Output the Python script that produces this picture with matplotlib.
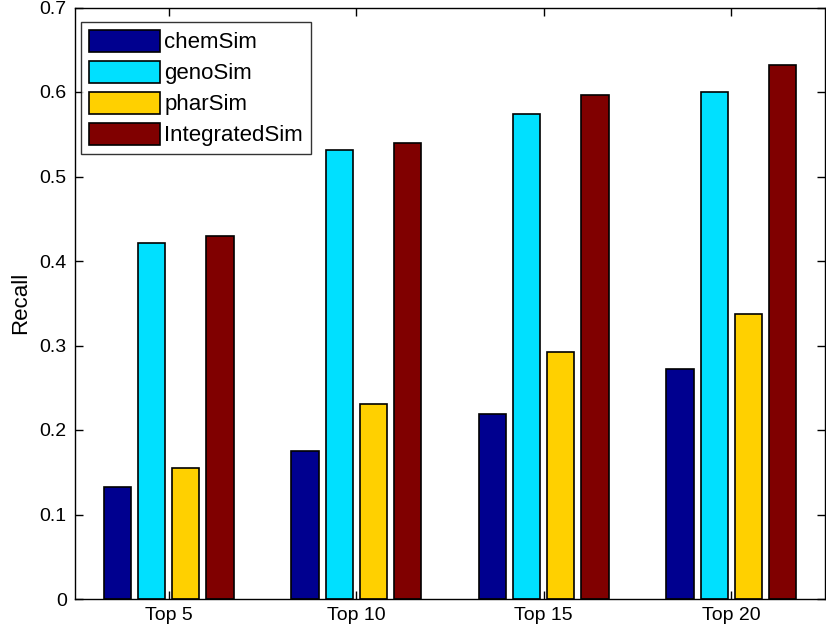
import matplotlib.pyplot as plt
import numpy as np

groups = ["Top 5", "Top 10", "Top 15", "Top 20"]
series = ["chemSim", "genoSim", "pharSim", "IntegratedSim"]
chem_sim = [0.133, 0.175, 0.219, 0.272]
geno_sim = [0.421, 0.531, 0.574, 0.600]
phar_sim = [0.155, 0.231, 0.292, 0.337]
integrated_sim = [0.429, 0.540, 0.597, 0.632]
colors = ["#00008F", "#00E0FF", "#FFD000", "#800000"]

plt.rcParams["font.family"] = ["Liberation Sans", "DejaVu Sans"]

fig = plt.figure(figsize=(8.26, 6.31), dpi=100)
ax = fig.add_axes([75 / 826, 32 / 631, 750 / 826, 591.5 / 631])

x = np.arange(1, len(groups) + 1)
step = (4 / 5.5) / 4
width = 0.8 * step
values = [chem_sim, geno_sim, phar_sim, integrated_sim]
for i, (name, vals, c) in enumerate(zip(series, values, colors)):
    ax.bar(x + (i - 1.5) * step, vals, width, color=c, edgecolor="black",
           linewidth=1.2, label=name)

ax.set_xlim(0.5, 4.5)
ax.set_ylim(0, 0.7)
ax.set_xticks(x)
ax.set_xticklabels(groups)
ax.set_yticks(np.arange(0, 0.71, 0.1))
ax.set_yticklabels(["0", "0.1", "0.2", "0.3", "0.4", "0.5", "0.6", "0.7"])
ax.tick_params(direction="in", top=True, right=True, length=6, width=1,
               labelsize=14, pad=6)
ax.set_ylabel("Recall", fontsize=16, labelpad=6)
for s in ax.spines.values():
    s.set_linewidth(1)

leg = ax.legend(loc="upper left", bbox_to_anchor=(0.008, 0.975), fontsize=16,
                frameon=True, fancybox=False, edgecolor="black",
                handlelength=3.2, handleheight=1.13, handletextpad=0.2,
                labelspacing=0.34, borderpad=0.35, borderaxespad=0)
leg.get_frame().set_linewidth(1)

fig.savefig("out.png", dpi=100)
